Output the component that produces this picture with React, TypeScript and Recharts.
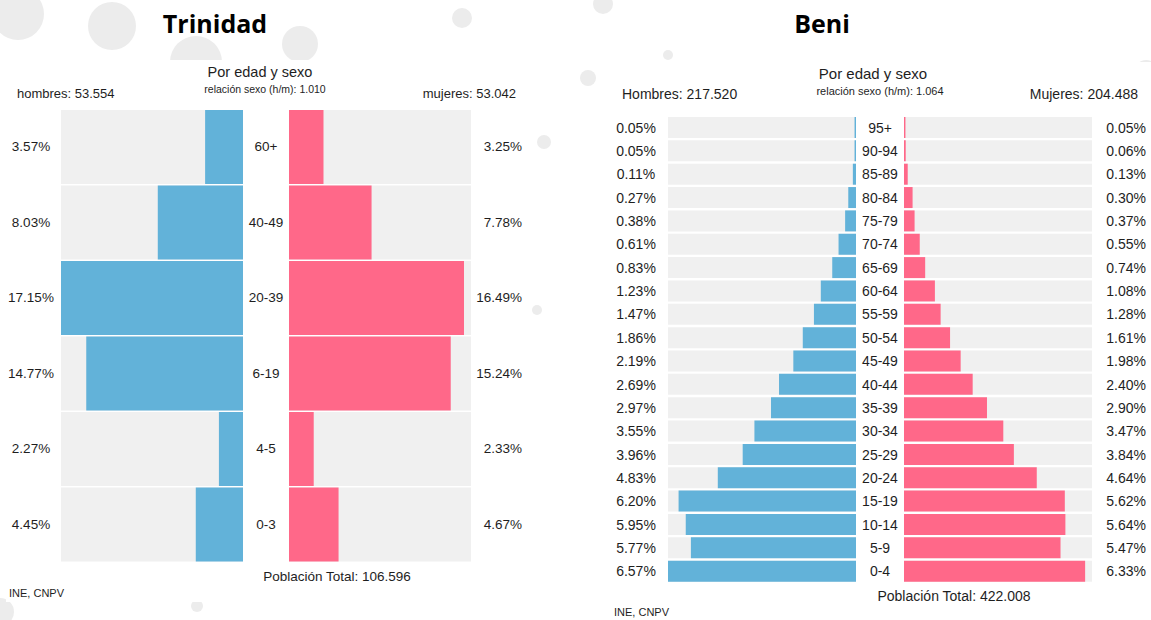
import React from 'react'
import { BarChart, Bar, XAxis, YAxis } from 'recharts'

// Trinidad (% of population by age group)
const trinidadAges = ['60+', '40-49', '20-39', '6-19', '4-5', '0-3']
const trinidadMale = [3.57, 8.03, 17.15, 14.77, 2.27, 4.45]
const trinidadFemale = [3.25, 7.78, 16.49, 15.24, 2.33, 4.67]

// Beni (% of population by 5-year group)
const beniAges = [
  '95+', '90-94', '85-89', '80-84', '75-79', '70-74', '65-69', '60-64', '55-59', '50-54',
  '45-49', '40-44', '35-39', '30-34', '25-29', '20-24', '15-19', '10-14', '5-9', '0-4',
]
const beniMale = [0.05, 0.05, 0.11, 0.27, 0.38, 0.61, 0.83, 1.23, 1.47, 1.86, 2.19, 2.69, 2.97, 3.55, 3.96, 4.83, 6.2, 5.95, 5.77, 6.57]
const beniFemale = [0.05, 0.06, 0.13, 0.3, 0.37, 0.55, 0.74, 1.08, 1.28, 1.61, 1.98, 2.4, 2.9, 3.47, 3.84, 4.64, 5.62, 5.64, 5.47, 6.33]

const BLUE = '#62b2d9'
const PINK = '#ff6889'
const GREY = '#f0f0f0'
const FONT = '"Liberation Sans", Arial, sans-serif'
const INK = '#1e1e1e'

interface Geometry {
  maleLabelX: number
  maleLeft: number
  maleRight: number
  femaleLeft: number
  femaleRight: number
  femaleLabelRight: number
  top: number
  bottom: number
  fontSize: number
}

const pct = (v: number) => v.toFixed(2) + '%'

function Pyramid({ ages, male, female, g }: { ages: string[]; male: number[]; female: number[]; g: Geometry }) {
  const rows = ages.map((age, i) => ({ age, male: male[i], female: female[i] }))
  const max = Math.max(...male, ...female)
  const height = g.bottom - g.top
  const maleChartLeft = g.maleLeft - 61
  const femaleWidth = g.femaleLabelRight + 4 - g.maleRight
  const ageAxisW = g.femaleLeft - g.maleRight
  const pctAxisW = femaleWidth - (g.femaleRight - g.maleRight)

  const text = { fontFamily: FONT, fontSize: g.fontSize, fill: INK }

  return (
    <>
      <div style={{ position: 'absolute', left: maleChartLeft, top: g.top }}>
        <BarChart
          width={g.maleRight - maleChartLeft}
          height={height}
          data={rows}
          layout="vertical"
          margin={{ top: 0, right: 0, bottom: 0, left: 0 }}
          barCategoryGap={1}
        >
          <XAxis type="number" domain={[0, max]} reversed hide />
          <YAxis
            type="category"
            dataKey="age"
            width={61}
            axisLine={false}
            tickLine={false}
            tick={(p: any) => (
              <text x={g.maleLabelX - maleChartLeft} y={p.y} textAnchor="middle" dominantBaseline="central" style={text}>
                {pct(male[p.index])}
              </text>
            )}
          />
          <Bar dataKey="male" fill={BLUE} background={{ fill: GREY }} isAnimationActive={false} />
        </BarChart>
      </div>
      <div style={{ position: 'absolute', left: g.maleRight, top: g.top }}>
        <BarChart
          width={femaleWidth}
          height={height}
          data={rows}
          layout="vertical"
          margin={{ top: 0, right: 0, bottom: 0, left: 0 }}
          barCategoryGap={1}
        >
          <XAxis type="number" domain={[0, max]} hide />
          <YAxis
            yAxisId="age"
            type="category"
            dataKey="age"
            width={ageAxisW}
            axisLine={false}
            tickLine={false}
            tick={(p: any) => (
              <text x={ageAxisW / 2} y={p.y} textAnchor="middle" dominantBaseline="central" style={text}>
                {p.payload.value}
              </text>
            )}
          />
          <YAxis
            yAxisId="pct"
            orientation="right"
            type="category"
            dataKey="age"
            width={pctAxisW}
            axisLine={false}
            tickLine={false}
            tick={(p: any) => (
              <text x={femaleWidth - 4} y={p.y} textAnchor="end" dominantBaseline="central" style={text}>
                {pct(female[p.index])}
              </text>
            )}
          />
          <Bar yAxisId="age" dataKey="female" fill={PINK} background={{ fill: GREY }} isAnimationActive={false} />
        </BarChart>
      </div>
    </>
  )
}

const trinidadGeo: Geometry = {
  maleLabelX: 31, maleLeft: 61, maleRight: 243, femaleLeft: 289, femaleRight: 471,
  femaleLabelRight: 522, top: 109, bottom: 562, fontSize: 13.5,
}
const beniGeo: Geometry = {
  maleLabelX: 636, maleLeft: 668, maleRight: 856, femaleLeft: 904, femaleRight: 1092,
  femaleLabelRight: 1146, top: 116, bottom: 583, fontSize: 14,
}

// faint decorative dots of the slide background
const dots = [
  [18, 14, 26], [112, 26, 24], [196, 62, 26], [300, 44, 18], [462, 18, 10], [603, 4, 10],
  [544, 142, 7], [537, 310, 5], [668, 55, 5], [1146, 72, 12], [1142, 420, 8], [0, 612, 14],
  [197, 606, 6], [588, 78, 8],
]

export default function App() {
  const t = { fontFamily: FONT, fill: INK }
  return (
    <div style={{ position: 'absolute', left: 0, top: 0, width: 1151, height: 620, background: '#fff', overflow: 'hidden' }}>
      <svg width={1151} height={620} style={{ position: 'absolute', left: 0, top: 0 }}>
        {dots.map(([cx, cy, r], i) => (
          <circle key={i} cx={cx} cy={cy} r={r} fill="#ececec" />
        ))}
        <rect x={6} y={60} width={526} height={542} fill="#fff" />
        <rect x={596} y={62} width={555} height={558} fill="#fff" />

        <text x={215} y={23} textAnchor="middle" dominantBaseline="central" style={{ ...t, fontFamily: '"Open Sans", sans-serif', fontWeight: 700, fontSize: 25, fill: '#000' }}>Trinidad</text>
        <text x={822} y={23} textAnchor="middle" dominantBaseline="central" style={{ ...t, fontFamily: '"Open Sans", sans-serif', fontWeight: 700, fontSize: 25, fill: '#000' }}>Beni</text>

        <text x={260} y={72} textAnchor="middle" dominantBaseline="central" style={{ ...t, fontSize: 14.5 }}>Por edad y sexo</text>
        <text x={265} y={89} textAnchor="middle" dominantBaseline="central" style={{ ...t, fontSize: 10.5 }}>relación sexo (h/m): 1.010</text>
        <text x={17} y={93} dominantBaseline="central" style={{ ...t, fontSize: 13 }}>hombres: 53.554</text>
        <text x={516} y={93} textAnchor="end" dominantBaseline="central" style={{ ...t, fontSize: 13 }}>mujeres: 53.042</text>
        <text x={337} y={576} textAnchor="middle" dominantBaseline="central" style={{ ...t, fontSize: 13.5 }}>Población Total: 106.596</text>
        <text x={9} y={593} dominantBaseline="central" style={{ ...t, fontSize: 11 }}>INE, CNPV</text>

        <text x={873} y={73} textAnchor="middle" dominantBaseline="central" style={{ ...t, fontSize: 15 }}>Por edad y sexo</text>
        <text x={880} y={91} textAnchor="middle" dominantBaseline="central" style={{ ...t, fontSize: 11 }}>relación sexo (h/m): 1.064</text>
        <text x={622} y={94} dominantBaseline="central" style={{ ...t, fontSize: 14 }}>Hombres: 217.520</text>
        <text x={1138} y={94} textAnchor="end" dominantBaseline="central" style={{ ...t, fontSize: 14 }}>Mujeres: 204.488</text>
        <text x={954} y={596} textAnchor="middle" dominantBaseline="central" style={{ ...t, fontSize: 14 }}>Población Total: 422.008</text>
        <text x={614} y={612} dominantBaseline="central" style={{ ...t, fontSize: 11 }}>INE, CNPV</text>
      </svg>
      <Pyramid ages={trinidadAges} male={trinidadMale} female={trinidadFemale} g={trinidadGeo} />
      <Pyramid ages={beniAges} male={beniMale} female={beniFemale} g={beniGeo} />
    </div>
  )
}
